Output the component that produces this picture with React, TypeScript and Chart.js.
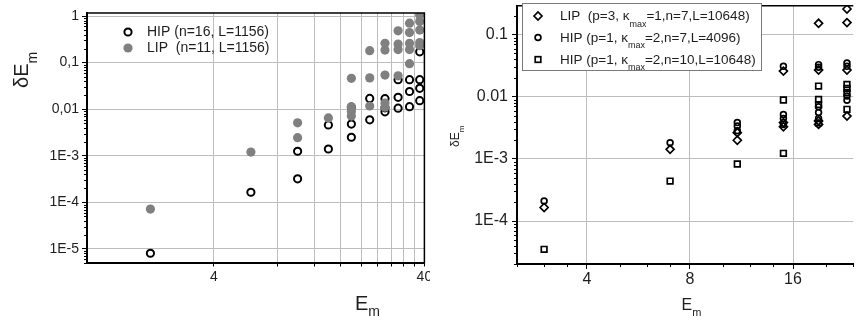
import React, { useEffect, useRef } from 'react';
import { Chart, registerables } from 'chart.js';

Chart.register(...registerables);

const FONT = '"Liberation Sans", Arial, Helvetica, sans-serif';
const GRID = '#bdbdbd';
const TXT = '#1e1e1e';

// ---------------- left panel ----------------
const leftXTicks = [4, 8, 12, 16, 20, 24, 28, 32, 36, 40];
const leftXTickLabels = ['4', '', '', '', '', '', '', '', '', '40'];
const leftYTicks = [1e-5, 1e-4, 1e-3, 1e-2, 1e-1, 1];
const leftYTickLabels = ['1E-5', '1E-4', '1E-3', '0,01', '0,1', '1'];

const hipLeftX = [2, 6, 10, 10, 14, 14, 18, 18, 18, 22, 22, 26, 26, 26, 30, 30, 30, 34, 34, 34, 38, 38, 38, 38];
const hipLeftY = [8.1e-6, 1.65e-4, 3.2e-4, 1.25e-3, 1.4e-3, 4.6e-3, 2.5e-3, 4.8e-3, 0.011, 5.9e-3, 0.017, 8.8e-3, 0.0107, 0.0168, 0.0105, 0.018, 0.043, 0.0113, 0.024, 0.043, 0.0152, 0.028, 0.043, 0.17];

const lipLeftX = [2, 6, 10, 10, 14, 18, 18, 18, 18, 22, 22, 22, 26, 26, 26, 26, 26, 30, 30, 30, 30, 34, 34, 34, 34, 34, 38, 38, 38, 38, 38];
const lipLeftY = [7.2e-5, 1.2e-3, 2.45e-3, 5.1e-3, 6.5e-3, 7.1e-3, 8.9e-3, 0.0113, 0.046, 0.0117, 0.047, 0.18, 0.011, 0.0135, 0.054, 0.186, 0.26, 0.052, 0.19, 0.25, 0.48, 0.095, 0.19, 0.26, 0.44, 0.7, 0.23, 0.27, 0.5, 0.76, 1.05];

const leftLegend = ['HIP (n=16, L=1156)', 'LIP  (n=11, L=1156)'];

// ---------------- right panel ----------------
const rightXTicks = [4, 8, 16];
const rightXTickLabels = ['4', '8', '16'];
const rightXMinor = [2.5, 3, 3.5, 5, 6, 7, 10, 12, 14, 20, 24];
const rightYTicks = [1e-4, 1e-3, 1e-2, 1e-1];
const rightYTickLabels = ['1E-4', '1E-3', '0.01', '0.1'];

const lipRightX = [3, 7, 11, 11, 15, 15, 15, 19, 19, 19, 19, 23, 23, 23, 23];
const lipRightY = [1.65e-4, 1.43e-3, 2.0e-3, 2.65e-3, 0.026, 3.85e-3, 3.3e-3, 0.153, 0.027, 4.1e-3, 3.6e-3, 0.26, 0.157, 0.027, 4.9e-3];

const hip7RightX = [3, 7, 11, 11, 11, 15, 15, 15, 15, 19, 19, 19, 19, 19, 23, 23, 23, 23];
const hip7RightY = [2.1e-4, 1.82e-3, 2.85e-3, 3.4e-3, 3.85e-3, 0.031, 5.2e-3, 4.5e-3, 3.6e-3, 0.033, 0.03, 6.9e-3, 5.6e-3, 4.5e-3, 0.035, 0.031, 0.0103, 8.8e-3];

const hip10RightX = [3, 7, 11, 15, 15, 19, 19, 19, 19, 23, 23, 23, 23];
const hip10RightY = [3.5e-5, 4.4e-4, 8.3e-4, 8.9e-3, 1.23e-3, 0.0149, 9.1e-3, 7.5e-3, 3.8e-3, 0.0158, 0.0137, 0.0117, 6.3e-3];

const rightLegend = [
  ['LIP  (p=3, \u03BA', 'max', '=1,n=7,L=10648)'],
  ['HIP (p=1, \u03BA', 'max', '=2,n=7,L=4096)'],
  ['HIP (p=1, \u03BA', 'max', '=2,n=10,L=10648)'],
];

// ---------------- helpers ----------------
function pts(xs: number[], ys: number[]) {
  return xs.map((x, i) => ({ x, y: ys[i] }));
}

function decadeMinors(fromExp: number, toExp: number) {
  const out: number[] = [];
  for (let e = fromExp; e <= toExp; e++) {
    for (let m = 2; m <= 9; m++) out.push(m * Math.pow(10, e));
  }
  return out;
}

function drawYMinor(ctx: CanvasRenderingContext2D, scale: any, area: any, values: number[], len: number) {
  ctx.beginPath();
  for (const v of values) {
    const p = scale.getPixelForValue(v);
    if (p < area.top - 0.5 || p > area.bottom + 0.5) continue;
    const yy = Math.round(p) + 0.5;
    ctx.moveTo(area.left - len, yy);
    ctx.lineTo(area.left, yy);
  }
  ctx.stroke();
}

function drawXMinor(ctx: CanvasRenderingContext2D, scale: any, area: any, values: number[], len: number) {
  ctx.beginPath();
  for (const v of values) {
    const p = scale.getPixelForValue(v);
    if (p < area.left - 0.5 || p > area.right + 0.5) continue;
    const xx = Math.round(p) + 0.5;
    ctx.moveTo(xx, area.bottom);
    ctx.lineTo(xx, area.bottom + len);
  }
  ctx.stroke();
}

function subText(ctx: CanvasRenderingContext2D, main: string, sub: string, x: number, y: number, size: number, subSize: number, dy: number) {
  ctx.font = `${size}px ${FONT}`;
  ctx.fillText(main, x, y);
  const w = ctx.measureText(main).width;
  ctx.font = `${subSize}px ${FONT}`;
  ctx.fillText(sub, x + w, y + dy);
}

function fixScale(w?: number, h?: number) {
  return (s: any) => {
    if (w !== undefined) s.width = w;
    if (h !== undefined) s.height = h;
    s.paddingLeft = 0;
    s.paddingRight = 0;
    s.paddingTop = 0;
    s.paddingBottom = 0;
  };
}

// ---------------- left chart ----------------
function leftConfig(): any {
  const deco = {
    id: 'leftDeco',
    afterDraw(chart: any) {
      const { ctx, chartArea: a, scales } = chart;
      ctx.save();
      ctx.strokeStyle = '#000';
      ctx.lineWidth = 1.5;
      ctx.beginPath();
      ctx.moveTo(a.left, a.top);
      ctx.lineTo(a.right, a.top);
      ctx.lineTo(a.right, a.bottom);
      ctx.stroke();
      ctx.lineWidth = 1;
      drawYMinor(ctx, scales.y, a, decadeMinors(-6, 0), 3);

      ctx.fillStyle = TXT;
      ctx.textBaseline = 'alphabetic';
      ctx.textAlign = 'left';
      // y title (rotated)
      ctx.save();
      ctx.translate(28, 88);
      ctx.rotate(-Math.PI / 2);
      subText(ctx, '\u03B4E', 'm', 0, 0, 20, 14, 9);
      ctx.restore();
      // x title
      subText(ctx, 'E', 'm', 355, 310, 20, 14, 6);

      // legend
      ctx.strokeStyle = '#000';
      ctx.lineWidth = 2;
      ctx.beginPath();
      ctx.arc(128, 32, 3.6, 0, Math.PI * 2);
      ctx.stroke();
      ctx.fillStyle = '#808080';
      ctx.beginPath();
      ctx.arc(128, 48, 4.6, 0, Math.PI * 2);
      ctx.fill();
      ctx.fillStyle = TXT;
      ctx.textBaseline = 'middle';
      ctx.font = `14px ${FONT}`;
      ctx.fillText(leftLegend[0], 147, 32.5);
      ctx.fillText(leftLegend[1], 147, 48.5);
      ctx.restore();
    },
  };
  return {
    type: 'scatter',
    data: {
      datasets: [
        {
          label: 'LIP',
          data: pts(lipLeftX, lipLeftY),
          pointStyle: 'circle',
          pointRadius: 4.6,
          pointHoverRadius: 4.6,
          pointBackgroundColor: '#808080',
          pointBorderColor: '#808080',
          pointBorderWidth: 0,
        },
        {
          label: 'HIP',
          data: pts(hipLeftX, hipLeftY),
          pointStyle: 'circle',
          pointRadius: 3.6,
          pointHoverRadius: 3.6,
          pointBackgroundColor: 'rgba(0,0,0,0)',
          pointBorderColor: '#000',
          pointBorderWidth: 2,
        },
      ],
    },
    options: {
      responsive: false,
      animation: false,
      devicePixelRatio: 1,
      events: [],
      layout: { padding: { left: 0, right: 4, top: 13, bottom: 0 } },
      plugins: { legend: { display: false }, tooltip: { enabled: false } },
      scales: {
        x: {
          type: 'logarithmic',
          min: 1,
          max: 40,
          afterBuildTicks: (s: any) => {
            s.ticks = leftXTicks.map((v) => ({ value: v }));
          },
          afterFit: fixScale(undefined, 57),
          ticks: {
            autoSkip: false,
            maxRotation: 0,
            minRotation: 0,
            padding: 2.5,
            color: TXT,
            font: { family: FONT, size: 14 },
            callback: (_v: any, i: number) => leftXTickLabels[i],
          },
          grid: { color: GRID, lineWidth: 1, drawTicks: true, tickLength: 3.5, tickColor: '#000' },
          border: { display: true, color: '#000', width: 2 },
        },
        y: {
          type: 'logarithmic',
          min: 5e-6,
          max: 1.16,
          afterBuildTicks: (s: any) => {
            s.ticks = leftYTicks.map((v) => ({ value: v }));
          },
          afterFit: fixScale(87, undefined),
          ticks: {
            autoSkip: false,
            padding: 3,
            color: TXT,
            font: { family: FONT, size: 14 },
            callback: (_v: any, i: number) => leftYTickLabels[i],
          },
          grid: { color: GRID, lineWidth: 1, drawTicks: true, tickLength: 5, tickColor: '#000' },
          border: { display: true, color: '#000', width: 2 },
        },
      },
    },
    plugins: [deco],
  };
}

// ---------------- right chart ----------------
function drawDiamond(ctx: CanvasRenderingContext2D, x: number, y: number, r: number) {
  ctx.beginPath();
  ctx.moveTo(x - r, y);
  ctx.lineTo(x, y - r);
  ctx.lineTo(x + r, y);
  ctx.lineTo(x, y + r);
  ctx.closePath();
  ctx.stroke();
}

function rightConfig(): any {
  const deco = {
    id: 'rightDeco',
    afterDraw(chart: any) {
      const { ctx, chartArea: a, scales } = chart;
      ctx.save();
      ctx.strokeStyle = '#000';
      ctx.lineWidth = 1.5;
      ctx.beginPath();
      ctx.moveTo(a.left, a.top);
      ctx.lineTo(a.right, a.top);
      ctx.stroke();
      ctx.lineWidth = 1;
      drawYMinor(ctx, scales.y, a, decadeMinors(-5, -1), 3);
      drawXMinor(ctx, scales.x, a, rightXMinor, 3);

      ctx.fillStyle = TXT;
      ctx.textAlign = 'left';
      ctx.textBaseline = 'alphabetic';
      // y title
      ctx.save();
      ctx.translate(28.5, 147);
      ctx.rotate(-Math.PI / 2);
      subText(ctx, '\u03B4E', 'm', 0, 0, 12, 8, 5);
      ctx.restore();
      // x title
      subText(ctx, 'E', 'm', 251.5, 310, 16, 11, 6);

      // legend box
      const bx = 92, by = 3.5, bw = 239, bh = 67;
      ctx.fillStyle = '#fff';
      ctx.fillRect(bx, by, bw, bh);
      ctx.strokeStyle = '#7a7a7a';
      ctx.lineWidth = 1;
      ctx.strokeRect(bx + 0.5, by, bw, bh);
      // markers
      const mx = 108;
      const rows = [16, 37.5, 59.5];
      ctx.strokeStyle = '#000';
      ctx.lineWidth = 1.7;
      drawDiamond(ctx, mx, rows[0], 4);
      ctx.beginPath();
      ctx.arc(mx, rows[1], 2.9, 0, Math.PI * 2);
      ctx.stroke();
      ctx.strokeRect(mx - 2.8, rows[2] - 2.8, 5.6, 5.6);
      // texts
      ctx.fillStyle = TXT;
      ctx.textBaseline = 'middle';
      rightLegend.forEach((parts, i) => {
        const y = rows[i] + 0.5;
        let x = 130;
        ctx.font = `13.5px ${FONT}`;
        ctx.fillText(parts[0], x, y);
        x += ctx.measureText(parts[0]).width;
        ctx.font = `9px ${FONT}`;
        ctx.fillText(parts[1], x, y + 8);
        x += ctx.measureText(parts[1]).width;
        ctx.font = `13.5px ${FONT}`;
        ctx.fillText(parts[2], x, y);
      });
      ctx.restore();
    },
  };
  return {
    type: 'scatter',
    data: {
      datasets: [
        {
          label: 'LIP',
          data: pts(lipRightX, lipRightY),
          pointStyle: 'rectRot',
          pointRadius: 4,
          pointHoverRadius: 4,
          pointBackgroundColor: 'rgba(0,0,0,0)',
          pointBorderColor: '#000',
          pointBorderWidth: 1.7,
        },
        {
          label: 'HIP7',
          data: pts(hip7RightX, hip7RightY),
          pointStyle: 'circle',
          pointRadius: 2.9,
          pointHoverRadius: 2.9,
          pointBackgroundColor: 'rgba(0,0,0,0)',
          pointBorderColor: '#000',
          pointBorderWidth: 1.7,
        },
        {
          label: 'HIP10',
          data: pts(hip10RightX, hip10RightY),
          pointStyle: 'rect',
          pointRadius: 4,
          pointHoverRadius: 4,
          pointBackgroundColor: 'rgba(0,0,0,0)',
          pointBorderColor: '#000',
          pointBorderWidth: 1.7,
        },
      ],
    },
    options: {
      responsive: false,
      animation: false,
      devicePixelRatio: 1,
      events: [],
      layout: { padding: { left: 0, right: 0, top: 4, bottom: 0 } },
      plugins: { legend: { display: false }, tooltip: { enabled: false } },
      scales: {
        x: {
          type: 'logarithmic',
          min: 2.5,
          max: 24,
          afterBuildTicks: (s: any) => {
            s.ticks = rightXTicks.map((v) => ({ value: v }));
          },
          afterFit: fixScale(undefined, 56),
          ticks: {
            autoSkip: false,
            maxRotation: 0,
            minRotation: 0,
            padding: 1,
            color: TXT,
            font: { family: FONT, size: 16 },
            callback: (_v: any, i: number) => rightXTickLabels[i],
          },
          grid: { color: GRID, lineWidth: 1, drawTicks: true, tickLength: 5, tickColor: '#000' },
          border: { display: true, color: '#000', width: 2 },
        },
        y: {
          type: 'logarithmic',
          min: 2.03e-5,
          max: 0.294,
          afterBuildTicks: (s: any) => {
            s.ticks = rightYTicks.map((v) => ({ value: v }));
          },
          afterFit: fixScale(87, undefined),
          ticks: {
            autoSkip: false,
            padding: 4,
            color: TXT,
            font: { family: FONT, size: 16 },
            callback: (_v: any, i: number) => rightYTickLabels[i],
          },
          grid: { color: GRID, lineWidth: 1, drawTicks: true, tickLength: 5, tickColor: '#000' },
          border: { display: true, color: '#000', width: 2 },
        },
      },
    },
    plugins: [deco],
  };
}

export default function App() {
  const leftRef = useRef<HTMLCanvasElement>(null);
  const rightRef = useRef<HTMLCanvasElement>(null);
  useEffect(() => {
    const c1 = new Chart(leftRef.current as HTMLCanvasElement, leftConfig());
    const c2 = new Chart(rightRef.current as HTMLCanvasElement, rightConfig());
    return () => {
      c1.destroy();
      c2.destroy();
    };
  }, []);
  return (
    <div style={{ position: 'absolute', left: 0, top: 0, width: 859, height: 320, background: '#fff', overflow: 'hidden' }}>
      <canvas ref={leftRef} width={430} height={320} style={{ position: 'absolute', left: 0, top: 0, width: 430, height: 320 }} />
      <canvas ref={rightRef} width={429} height={320} style={{ position: 'absolute', left: 430, top: 0, width: 429, height: 320 }} />
    </div>
  );
}
